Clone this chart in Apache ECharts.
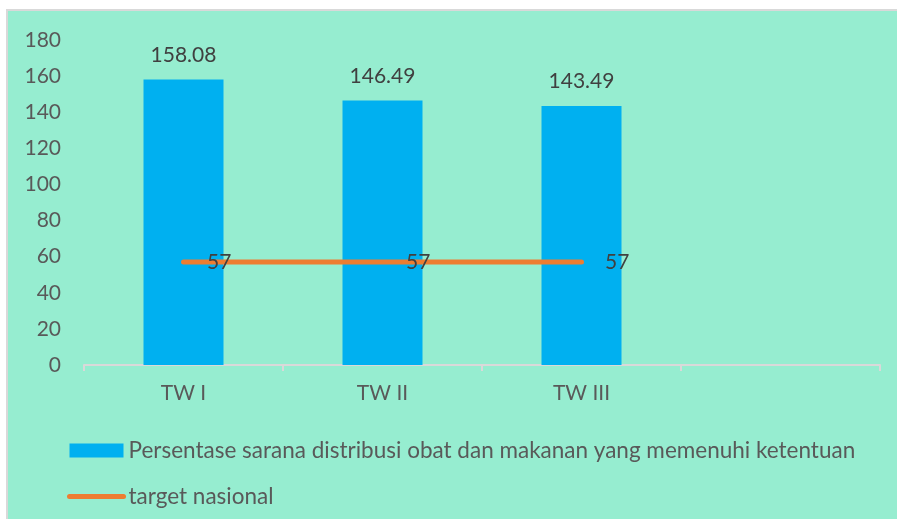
<!DOCTYPE html>
<html>
<head>
<meta charset="utf-8">
<script src="https://cdn.jsdelivr.net/npm/echarts@6/dist/echarts.min.js"></script>
<style>
html, body { margin: 0; padding: 0; background: #ffffff; }
#frame {
	position: absolute; left: 6px; top: 9px;
	width: 891px; height: 510px;
	border-top: 2px solid #d9d9d9; border-left: 2px solid #d9d9d9;
	background: #96edd0;
}
#chart { width: 891px; height: 510px; }
</style>
</head>
<body>
<div id="frame"><div id="chart"></div></div>
<script>
// data
var categories = ['TW I', 'TW II', 'TW III', ''];
var persentase = [158.08, 146.49, 143.49, null];
var target = [57, 57, 57, null];
var seriesNames = ['Persentase sarana distribusi obat dan makanan yang memenuhi ketentuan', 'target nasional'];

var fontName = 'Lato';
var chart = echarts.init(document.getElementById('chart'));

var option = {
	animation: false,
	textStyle: { fontFamily: fontName },
	grid: { left: 76, right: 19, top: 29, bottom: 156 },
	legend: {
		orient: 'vertical',
		left: 54,
		top: 423,
		itemWidth: 54,
		itemHeight: 14,
		itemGap: 23,
		textStyle: { fontFamily: fontName, fontSize: 22.5, color: '#595959' },
		data: [
			{ name: seriesNames[0], icon: 'rect' },
			{ name: seriesNames[1], itemStyle: { opacity: 0 }, lineStyle: { width: 5, cap: 'round' } }
		]
	},
	xAxis: {
		type: 'category',
		data: categories,
		axisLine: { lineStyle: { color: '#d9d9d9', width: 2 } },
		axisTick: { show: true, length: 6, lineStyle: { color: '#d9d9d9', width: 2 } },
		axisLabel: { fontSize: 21, color: '#595959', margin: 18 }
	},
	yAxis: {
		type: 'value',
		min: 0,
		max: 180,
		interval: 20,
		splitLine: { show: false },
		axisLine: { show: false },
		axisTick: { show: false },
		axisLabel: { fontSize: 21, color: '#595959', margin: 23 }
	},
	series: [
		{
			name: seriesNames[0],
			type: 'bar',
			data: persentase,
			barWidth: 80,
			itemStyle: { color: '#00b0f0' },
			label: {
				show: true,
				position: 'top',
				distance: 14,
				fontSize: 21,
				color: '#404040'
			}
		},
		{
			name: seriesNames[1],
			type: 'line',
			data: target,
			symbol: 'circle',
			symbolSize: 1,
			lineStyle: { color: '#ed7d31', width: 5, cap: 'round' },
			itemStyle: { color: '#ed7d31' },
			label: {
				show: true,
				position: 'right',
				distance: 23,
				fontSize: 21,
				color: '#404040'
			}
		}
	]
};
chart.setOption(option);
</script>
</body>
</html>
